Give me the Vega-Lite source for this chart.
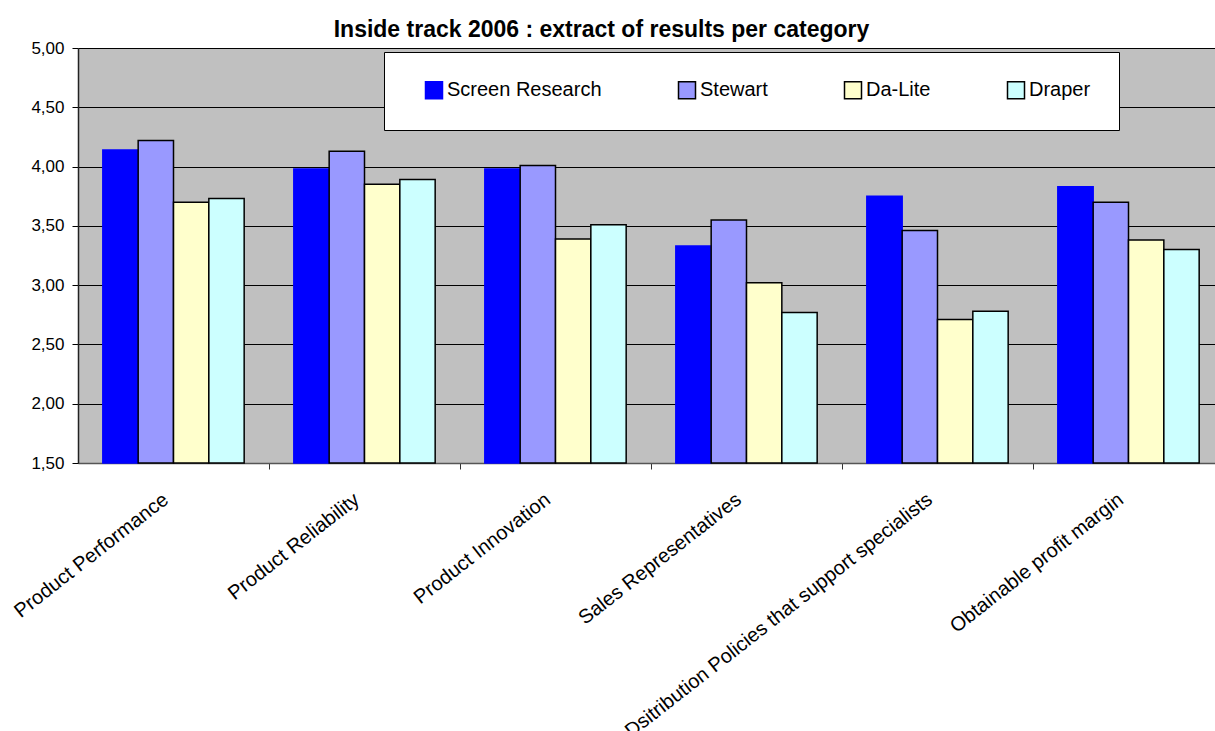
{
  "$schema": "https://vega.github.io/schema/vega-lite/v6.json",
  "width": 1137,
  "height": 415,
  "autosize": {"type": "none"},
  "padding": {"left": 78, "top": 48, "right": 0, "bottom": 268},
  "background": "white",
  "title": {
    "text": "Inside track 2006 : extract of results per category",
    "font": "Liberation Sans",
    "fontSize": 23,
    "fontWeight": "bold",
    "color": "black",
    "anchor": "middle",
    "frame": "group",
    "dx": -45,
    "offset": -3
  },
  "data": {
    "values": [
      {"category": "Product Performance", "series": "Screen Research", "score": 4.14},
      {"category": "Product Performance", "series": "Stewart", "score": 4.22},
      {"category": "Product Performance", "series": "Da-Lite", "score": 3.70},
      {"category": "Product Performance", "series": "Draper", "score": 3.73},
      {"category": "Product Reliability", "series": "Screen Research", "score": 3.98},
      {"category": "Product Reliability", "series": "Stewart", "score": 4.13},
      {"category": "Product Reliability", "series": "Da-Lite", "score": 3.85},
      {"category": "Product Reliability", "series": "Draper", "score": 3.89},
      {"category": "Product Innovation", "series": "Screen Research", "score": 3.98},
      {"category": "Product Innovation", "series": "Stewart", "score": 4.01},
      {"category": "Product Innovation", "series": "Da-Lite", "score": 3.39},
      {"category": "Product Innovation", "series": "Draper", "score": 3.51},
      {"category": "Sales Representatives", "series": "Screen Research", "score": 3.33},
      {"category": "Sales Representatives", "series": "Stewart", "score": 3.55},
      {"category": "Sales Representatives", "series": "Da-Lite", "score": 3.02},
      {"category": "Sales Representatives", "series": "Draper", "score": 2.77},
      {"category": "Dsitribution Policies that support specialists", "series": "Screen Research", "score": 3.75},
      {"category": "Dsitribution Policies that support specialists", "series": "Stewart", "score": 3.46},
      {"category": "Dsitribution Policies that support specialists", "series": "Da-Lite", "score": 2.71},
      {"category": "Dsitribution Policies that support specialists", "series": "Draper", "score": 2.78},
      {"category": "Obtainable profit margin", "series": "Screen Research", "score": 3.83},
      {"category": "Obtainable profit margin", "series": "Stewart", "score": 3.70},
      {"category": "Obtainable profit margin", "series": "Da-Lite", "score": 3.38},
      {"category": "Obtainable profit margin", "series": "Draper", "score": 3.30}
    ]
  },
  "mark": {"type": "bar", "strokeWidth": 1.5},
  "encoding": {
    "x": {
      "field": "category",
      "type": "nominal",
      "sort": null,
      "scale": {"range": [0, 1146], "paddingInner": 0.26, "paddingOuter": 0.13},
      "axis": {
        "title": null,
        "labelAngle": -38,
        "labelAlign": "right",
        "labelBaseline": "top",
        "labelFont": "Liberation Sans",
        "labelFontSize": 20,
        "labelColor": "black",
        "labelPadding": 20,
        "labelOffset": -39,
        "labelLimit": 0,
        "bandPosition": 1,
        "tickExtra": false,
        "tickOffset": 24.8,
        "tickSize": 6,
        "tickColor": "#333333",
        "domainColor": "#555555",
        "domainWidth": 1.5
      }
    },
    "xOffset": {"field": "series", "type": "nominal", "sort": ["Screen Research", "Stewart", "Da-Lite", "Draper"]},
    "y": {
      "field": "score",
      "type": "quantitative",
      "scale": {"domain": [1.5, 5], "nice": false, "zero": false},
      "axis": {
        "title": null,
        "values": [1.5, 2, 2.5, 3, 3.5, 4, 4.5, 5],
        "labelExpr": "replace(format(datum.value, '.2f'), '.', ',')",
        "labelFont": "Liberation Sans",
        "labelFontSize": 17,
        "labelColor": "black",
        "labelPadding": 8,
        "tickSize": 6,
        "tickColor": "black",
        "domainColor": "#222222",
        "domainWidth": 1.5,
        "grid": true,
        "gridColor": "black",
        "gridOpacity": 1,
        "gridWidth": 1
      }
    },
    "y2": {"datum": 1.5},
    "fill": {
      "field": "series",
      "type": "nominal",
      "sort": ["Screen Research", "Stewart", "Da-Lite", "Draper"],
      "scale": {"domain": ["Screen Research", "Stewart", "Da-Lite", "Draper"], "range": ["#0000FF", "#9999FF", "#FFFFCC", "#CCFFFF"]},
      "legend": {
        "title": null,
        "orient": "none",
        "legendX": 306,
        "legendY": 4,
        "direction": "horizontal",
        "columns": 4,
        "columnPadding": 63,
        "padding": 28,
        "symbolOffset": 12,
        "fillColor": "white",
        "strokeColor": "black",
        "symbolType": "square",
        "symbolSize": 289,
        "symbolStrokeWidth": 1.5,
        "symbolOpacity": 1,
        "labelFont": "Liberation Sans",
        "labelFontSize": 20,
        "labelColor": "black",
        "labelOffset": 3
      }
    },
    "stroke": {
      "field": "series",
      "type": "nominal",
      "sort": ["Screen Research", "Stewart", "Da-Lite", "Draper"],
      "scale": {"domain": ["Screen Research", "Stewart", "Da-Lite", "Draper"], "range": ["#0000FF", "#000000", "#000000", "#000000"]}
    }
  },
  "config": {
    "view": {"fill": "#C0C0C0", "stroke": null}
  }
}
